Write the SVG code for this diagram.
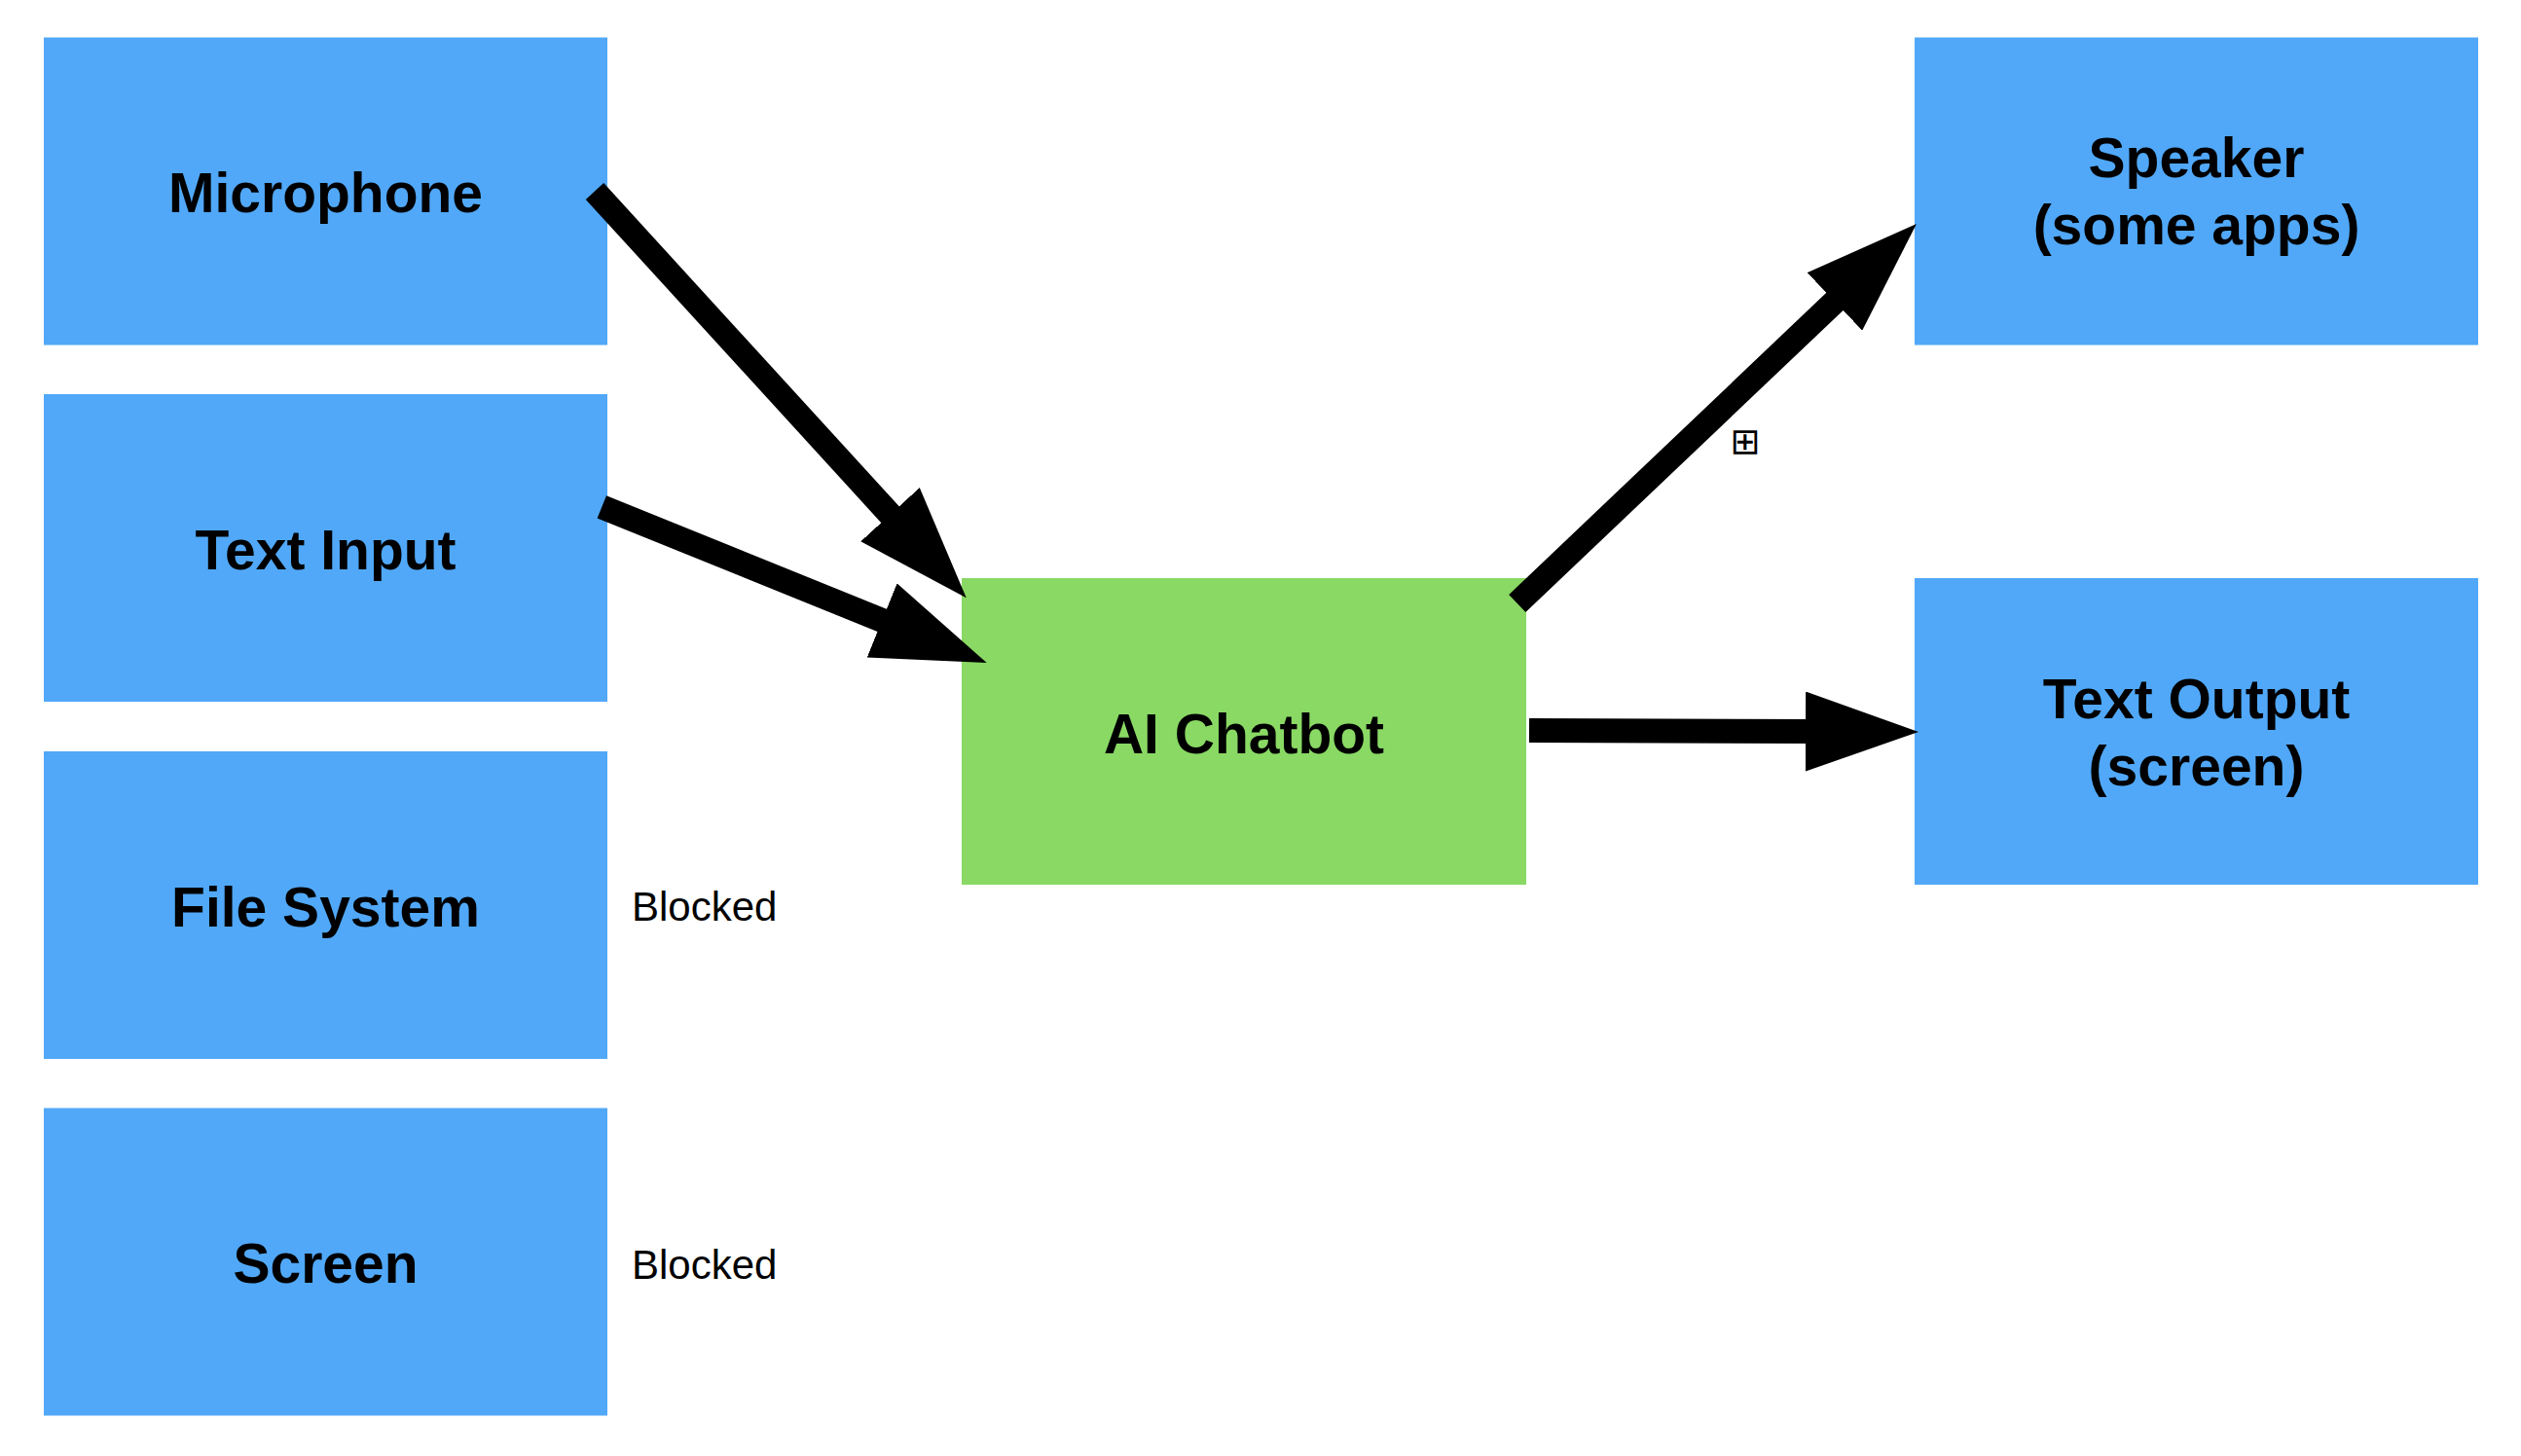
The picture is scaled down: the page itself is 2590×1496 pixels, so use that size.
<svg xmlns="http://www.w3.org/2000/svg" width="2590" height="1496" viewBox="0 0 2590 1496">
  <style>
    .io { fill: #51A8F8; }
    .core { fill: #89D964; }
    .lbl { font-family: "Liberation Sans", Arial, Helvetica, sans-serif; font-weight: bold; font-size: 57px; fill: #000; text-anchor: middle; }
    .note { font-family: "Liberation Sans", Arial, Helvetica, sans-serif; font-size: 42px; fill: #000; }
    .edge { stroke: #000; stroke-width: 25; fill: none; marker-end: url(#arrow); }
  </style>
  <defs>
    <marker id="arrow" viewBox="0 0 116 82" refX="16" refY="41" markerWidth="116" markerHeight="82" markerUnits="userSpaceOnUse" orient="auto">
      <path d="M0,0 L116,41 L0,82 Z" fill="#000"/>
    </marker>
  </defs>
  <rect width="2590" height="1496" fill="#fff"/>

  <g id="node-microphone">
    <rect class="io" x="45" y="38.5" width="579" height="316"/>
    <text class="lbl" x="334.5" y="218">Microphone</text>
  </g>
  <g id="node-text-input">
    <rect class="io" x="45" y="405" width="579" height="316"/>
    <text class="lbl" x="334.5" y="584.5">Text Input</text>
  </g>
  <g id="node-file-system">
    <rect class="io" x="45" y="772" width="579" height="316"/>
    <text class="lbl" x="334.5" y="951.5">File System</text>
  </g>
  <g id="node-screen">
    <rect class="io" x="45" y="1138.5" width="579" height="316"/>
    <text class="lbl" x="334.5" y="1318">Screen</text>
  </g>
  <g id="node-ai-chatbot">
    <rect class="core" x="988" y="594" width="580" height="315"/>
    <text class="lbl" x="1278" y="773.5">AI Chatbot</text>
  </g>
  <g id="node-speaker">
    <rect class="io" x="1967" y="38.5" width="579" height="316"/>
    <text class="lbl" x="2256.5" y="182">Speaker</text>
    <text class="lbl" x="2256.5" y="251">(some apps)</text>
  </g>
  <g id="node-text-output">
    <rect class="io" x="1967" y="594" width="579" height="315"/>
    <text class="lbl" x="2256.5" y="737.5">Text Output</text>
    <text class="lbl" x="2256.5" y="806.5">(screen)</text>
  </g>

  <g id="connectors">
    <path class="edge" d="M611,196.5 L925.3,540.5"/>
    <path class="edge" d="M618.3,520.8 L921,643.4"/>
    <path class="edge" d="M1558.8,620 L1896.5,298.9"/>
    <path class="edge" d="M1571,750.5 L1871,751.6"/>
    <text class="note" x="649" y="946.4">Blocked</text>
    <text class="note" x="649" y="1313.8">Blocked</text>
    <text x="1793" y="466" font-family="DejaVu Sans, sans-serif" font-size="37" text-anchor="middle" fill="#000">⊞</text>
  </g>
</svg>
